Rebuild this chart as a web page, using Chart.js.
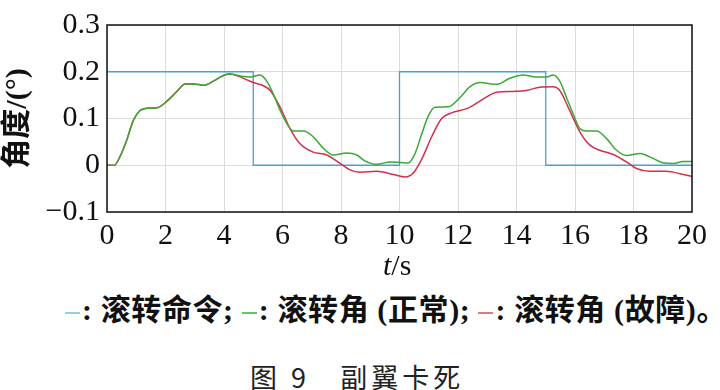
<!DOCTYPE html>
<html>
<head>
<meta charset="utf-8">
<script src="https://cdn.jsdelivr.net/npm/chart.js@4/dist/chart.umd.min.js"></script>
<style>
  html, body { margin: 0; padding: 0; background: #fff; }
  #wrap { position: relative; width: 720px; height: 390px; overflow: hidden; }
  #box { position: absolute; left: 0; top: 0; width: 720px; height: 250px; }
  .txt { position: absolute; white-space: nowrap; color: #111; }
  #xt { left: 383px; top: 248px; font: 30px "Liberation Serif", serif; }
  #leg { left: 65px; top: 285px; font: bold 30px "Liberation Serif", "Noto Sans CJK SC", serif; letter-spacing: 0.6px; }
  #leg .d { display: inline-block; width: 15px; height: 2px; vertical-align: middle; margin-right: 2px; }
  #cap { left: 250px; top: 357px; font: 27px "Noto Sans CJK SC", sans-serif; letter-spacing: 4px; color: #222; }
</style>
</head>
<body>
<div id="wrap">
  <div id="box"><canvas id="c"></canvas></div>
  <div class="txt" id="xt"><i>t</i>/s</div>
  <div class="txt" id="leg"><span class="d" style="background:#9ccbe8"></span>: 滚转命令; <span class="d" style="background:#6cc06a"></span>: 滚转角 (正常); <span class="d" style="background:#e07a78"></span>: 滚转角 (故障)。</div>
  <div class="txt" id="cap">图 9&nbsp;&nbsp;&nbsp;副翼卡死</div>
</div>
<script>
// 滚转命令 (阶跃)
const tCmd = [0, 5, 5, 10, 10, 15, 15, 20];
const rollCmd = [0.2, 0.2, 0, 0, 0.2, 0.2, 0, 0];

// 滚转角 (正常)
const tNormal = [0, 0.25, 0.44, 0.67, 0.9, 1.13, 1.36, 1.71, 2.05, 2.39, 2.67, 2.96, 3.3, 3.64, 3.98, 4.21,
  4.55, 4.9, 5.23, 5.46, 5.69, 5.92, 6.15, 6.37, 6.71, 7.05, 7.4, 7.74, 8.19, 8.54, 8.8, 9.22, 9.68,
  10.02, 10.3, 10.53, 10.76, 10.99, 11.21, 11.67, 12.07, 12.41, 12.75, 13.32, 13.77, 14.23, 14.68,
  15.03, 15.25, 15.48, 15.71, 15.94, 16.17, 16.4, 16.74, 17.08, 17.42, 17.76, 18.22, 18.56, 19.02,
  19.36, 19.7, 20];
const rollNormal = [0, 0, 0.018, 0.053, 0.096, 0.117, 0.122, 0.123, 0.137, 0.158, 0.174, 0.174, 0.171, 0.18, 0.192, 0.195,
  0.191, 0.189, 0.193, 0.18, 0.152, 0.117, 0.089, 0.073, 0.073, 0.061, 0.036, 0.022, 0.026, 0.022, 0.01, 0.002, 0.007,
  0.006, 0.005, 0.025, 0.067, 0.106, 0.124, 0.125, 0.145, 0.168, 0.177, 0.173, 0.186, 0.193, 0.189,
  0.189, 0.193, 0.18, 0.145, 0.109, 0.078, 0.073, 0.073, 0.057, 0.032, 0.021, 0.025, 0.018, 0.005,
  0.004, 0.008, 0.008];

// 滚转角 (故障)
const tFault = [0, 0.25, 0.44, 0.67, 0.9, 1.13, 1.36, 1.71, 2.05, 2.39, 2.67, 2.96, 3.3, 3.64, 3.98, 4.21,
  4.55, 5.0, 5.35, 5.58, 5.92, 6.26, 6.6, 7.05, 7.51, 7.97, 8.31, 8.65, 9.22, 9.79, 10.19, 10.48,
  10.76, 11.1, 11.44, 11.78, 12.3, 12.87, 13.32, 13.89, 14.34, 14.8, 15.25, 15.48, 15.82, 16.17,
  16.51, 16.85, 17.31, 17.76, 18.1, 18.56, 19.13, 19.59, 20];
const rollFault = [0, 0, 0.018, 0.053, 0.096, 0.117, 0.122, 0.123, 0.137, 0.158, 0.174, 0.174, 0.171, 0.18, 0.192, 0.195,
  0.189, 0.177, 0.17, 0.16, 0.124, 0.078, 0.046, 0.028, 0.022, 0.004, -0.01, -0.015, -0.013, -0.02, -0.025, -0.016,
  0.013, 0.061, 0.1, 0.112, 0.121, 0.142, 0.156, 0.158, 0.16, 0.167, 0.168, 0.16, 0.117, 0.071,
  0.043, 0.032, 0.023, 0.007, -0.007, -0.013, -0.013, -0.018, -0.024];

const xTicks = [0, 2, 4, 6, 8, 10, 12, 14, 16, 18, 20];
const yTicks = [-0.1, 0, 0.1, 0.2, 0.3];

const pts = (xs, ys) => xs.map((x, i) => ({ x: x, y: ys[i] }));

// 四周黑框
const frame = {
  id: 'frame',
  afterDraw(chart) {
    const a = chart.chartArea, ctx = chart.ctx;
    ctx.save();
    ctx.strokeStyle = '#111';
    ctx.lineWidth = 1.5;
    ctx.strokeRect(a.left, a.top, a.right - a.left, a.bottom - a.top);
    ctx.restore();
  }
};

const tickFont = { family: '"Liberation Serif", serif', size: 30 };

new Chart(document.getElementById('c'), {
  type: 'line',
  data: {
    datasets: [
      { data: pts(tCmd, rollCmd), borderColor: '#4a9fd8', borderWidth: 1.3, tension: 0, order: 3 },
      { data: pts(tFault, rollFault), borderColor: '#d3304c', borderWidth: 1.5, tension: 0.4, cubicInterpolationMode: 'monotone', order: 2 },
      { data: pts(tNormal, rollNormal), borderColor: '#3aa935', borderWidth: 1.5, tension: 0.4, cubicInterpolationMode: 'monotone', order: 1 }
    ]
  },
  options: {
    responsive: true,
    maintainAspectRatio: false,
    animation: false,
    events: [],
    elements: { point: { radius: 0 } },
    layout: { padding: { top: 24, right: 28, left: 0, bottom: 0 } },
    plugins: { legend: { display: false }, tooltip: { enabled: false } },
    scales: {
      x: {
        type: 'linear', min: 0, max: 20,
        afterBuildTicks: s => { s.ticks = xTicks.map(v => ({ value: v })); },
        afterFit: s => { s.height = 38; },
        grid: { color: '#dcdcdc', drawTicks: false },
        border: { display: false },
        ticks: { font: tickFont, color: '#111', padding: 6, maxRotation: 0, callback: v => String(v) }
      },
      y: {
        type: 'linear', min: -0.1, max: 0.3,
        afterBuildTicks: s => { s.ticks = yTicks.map(v => ({ value: v })); },
        afterFit: s => { s.width = 107; },
        grid: { color: '#dcdcdc', drawTicks: false },
        border: { display: false },
        ticks: { font: tickFont, color: '#111', padding: 7, callback: v => (v < 0 ? '\u2212' + Math.abs(v).toFixed(1) : (v === 0 ? '0' : v.toFixed(1))) },
        title: { display: true, text: '角度/(°)', font: { family: '"Liberation Serif", "Noto Sans CJK SC", serif', size: 30, weight: 'bold' }, color: '#111', padding: { top: 0, bottom: 0 } }
      }
    }
  },
  plugins: [frame]
});
</script>
</body>
</html>
